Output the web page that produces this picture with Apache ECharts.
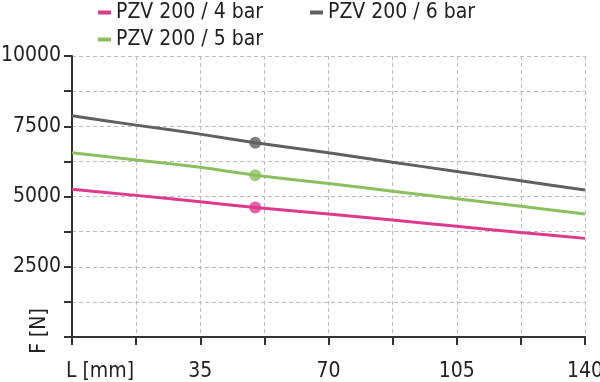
<!DOCTYPE html>
<html><head><meta charset="utf-8">
<script src="https://cdn.jsdelivr.net/npm/echarts@6/dist/echarts.min.js"></script>
<style>html,body{margin:0;padding:0;background:#fff}#c{width:600px;height:382px}</style>
</head><body><div id="c"></div>
<script>
const FONT = "'DejaVu Sans Condensed', 'DejaVu Sans', sans-serif";
const lengths = [0, 17.5, 35, 50, 70, 87.5, 105, 122.5, 140];
const names = ['PZV 200 / 4 bar', 'PZV 200 / 5 bar', 'PZV 200 / 6 bar'];
const bar4 = [5260, 5040, 4810, 4610, 4380, 4160, 3940, 3720, 3510];
const bar5 = [6560, 6300, 6040, 5760, 5460, 5190, 4920, 4650, 4380];
const bar6 = [7870, 7540, 7220, 6910, 6560, 6220, 5890, 5560, 5230];
const markerL = 50;
const markerF = [4610, 5760, 6910];
const colors = ['#dd3a8c', '#8cc05f', '#606062'];
const xTicks = [35, 70, 105, 140];
const yTicks = [2500, 5000, 7500, 10000];

const seriesVals = [bar4, bar5, bar6];
const series = [];
seriesVals.forEach((vals, i) => {
  series.push({
    name: names[i], type: 'line', symbol: 'none', smooth: 0.2,
    lineStyle: {width: 3, color: colors[i]}, itemStyle: {color: colors[i]},
    data: lengths.map((l, j) => [l, vals[j]]), z: 3
  });
  series.push({
    name: names[i] + ' pt', type: 'scatter', symbol: 'circle', symbolSize: 12,
    itemStyle: {color: colors[i]}, data: [[markerL, markerF[i]]], z: 4
  });
});

const FS = 21;
const chart = echarts.init(document.getElementById('c'));
const textStyle = {fontFamily: FONT, fontSize: FS, color: '#222'};
chart.setOption({
  animation: false,
  textStyle: textStyle,
  legend: [
    {left: 98, top: 2, padding: 0, orient: 'vertical', itemGap: 6, itemWidth: 13, itemHeight: 4, icon: 'rect',
     data: [names[0], names[1]], textStyle: textStyle},
    {left: 310, top: 2, padding: 0, orient: 'vertical', itemWidth: 13, itemHeight: 4, icon: 'rect',
     data: [names[2]], textStyle: textStyle}
  ],
  grid: {left: 72, right: 15, top: 56, bottom: 45, outerBoundsMode: 'none', containLabel: false},
  xAxis: {
    type: 'value', min: 0, max: 140, interval: 17.5,
    axisLine: {lineStyle: {color: '#333', width: 2}},
    axisTick: {show: true, length: 8, lineStyle: {color: '#333', width: 2}},
    splitLine: {show: true, lineStyle: {color: '#bbb', type: [4, 3], width: 1}},
    axisLabel: {
      margin: 24, fontFamily: FONT, fontSize: FS, color: '#222', showMaxLabel: true,
      formatter: v => v === 0 ? '{a|L [mm]}' : (xTicks.includes(v) ? String(v) : ''),
      rich: {a: {fontFamily: FONT, fontSize: FS, color: '#222', padding: [0, 0, 0, 56]}}
    }
  },
  yAxis: {
    type: 'value', min: 0, max: 10000, interval: 1250,
    axisLine: {show: true, lineStyle: {color: '#333', width: 2}},
    axisTick: {show: true, length: 8, lineStyle: {color: '#333', width: 2}},
    splitLine: {show: true, lineStyle: {color: '#bbb', type: [4, 3], width: 1}},
    axisLabel: {
      margin: 11, fontFamily: FONT, fontSize: FS, color: '#222',
      formatter: v => yTicks.includes(v) ? String(v) : ''
    }
  },
  graphic: [{
    type: 'text', x: 40, y: 331, rotation: Math.PI / 2,
    style: {text: 'F [N]', fontFamily: FONT, fontSize: FS, fill: '#222', align: 'center', verticalAlign: 'middle'}
  }],
  series: series
});
</script></body></html>
